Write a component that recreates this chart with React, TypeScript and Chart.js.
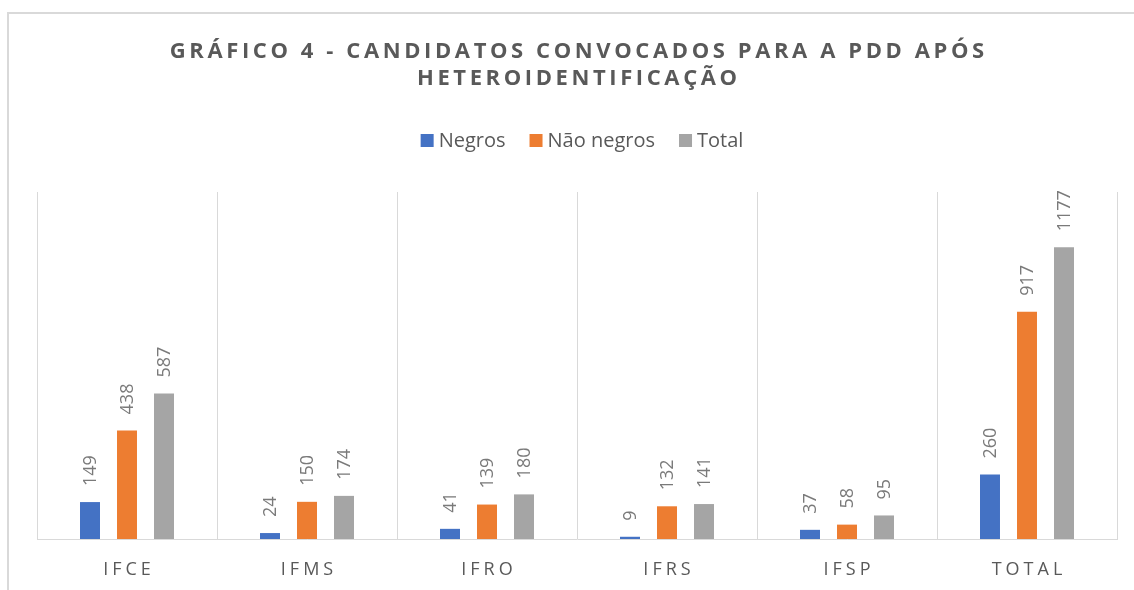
import React, { useEffect, useRef } from "react";
import { Chart, registerables } from "chart.js";

Chart.register(...registerables);

const categories = ["IFCE", "IFMS", "IFRO", "IFRS", "IFSP", "TOTAL"];
const negros = [149, 24, 41, 9, 37, 260];
const naoNegros = [438, 150, 139, 132, 58, 917];
const total = [587, 174, 180, 141, 95, 1177];
const seriesNames = ["Negros", "Não negros", "Total"];
const seriesColors = ["#4472C4", "#ED7D31", "#A5A5A5"];
const titleLines = ["GRÁFICO 4 - CANDIDATOS CONVOCADOS PARA A PDD APÓS", "HETEROIDENTIFICAÇÃO"];

const FONT = "'Open Sans', 'DejaVu Sans', sans-serif";

const decorPlugin = {
  id: "decor",
  afterDraw(chart: any) {
    const ctx = chart.ctx as CanvasRenderingContext2D;
    const area = chart.chartArea;
    const cx = (area.left + area.right) / 2;

    // Title
    ctx.save();
    ctx.fillStyle = "#595959";
    ctx.font = `bold 22px ${FONT}`;
    (ctx as any).letterSpacing = "3.6px";
    ctx.textAlign = "center";
    ctx.textBaseline = "alphabetic";
    ctx.fillText(titleLines[0], cx + 1.8, 58);
    ctx.fillText(titleLines[1], cx + 1.8, 85);
    ctx.restore();

    // Legend
    ctx.save();
    ctx.font = `20px ${FONT}`;
    ctx.textBaseline = "alphabetic";
    ctx.textAlign = "left";
    const box = 13;
    const gapBox = 5;
    const gapItem = 24;
    const widths = seriesNames.map((n) => ctx.measureText(n).width);
    const totalW = widths.reduce((a, w) => a + box + gapBox + w, 0) + gapItem * (seriesNames.length - 1);
    let x = 582 - totalW / 2;
    const baseY = 147;
    seriesNames.forEach((n, i) => {
      ctx.fillStyle = seriesColors[i];
      ctx.fillRect(x, baseY - box, box, box);
      x += box + gapBox;
      ctx.fillStyle = "#595959";
      ctx.fillText(n, x, baseY);
      x += widths[i] + gapItem;
    });
    ctx.restore();

    // X category labels
    const xScale = chart.scales.x;
    ctx.save();
    ctx.font = `18px ${FONT}`;
    (ctx as any).letterSpacing = "4px";
    ctx.fillStyle = "#595959";
    ctx.textAlign = "center";
    ctx.textBaseline = "alphabetic";
    categories.forEach((c, i) => {
      const px = xScale.getPixelForValue(i);
      ctx.fillText(c, px + 2, 575);
    });
    ctx.restore();

    // Data labels
    ctx.save();
    ctx.font = `18px ${FONT}`;
    ctx.fillStyle = "#7a7a7a";
    ctx.textAlign = "left";
    ctx.textBaseline = "middle";
    chart.data.datasets.forEach((ds: any, di: number) => {
      const meta = chart.getDatasetMeta(di);
      meta.data.forEach((el: any, i: number) => {
        const v = ds.data[i];
        ctx.save();
        ctx.translate(el.x + 1, el.y - 16);
        ctx.rotate(-Math.PI / 2);
        ctx.fillText(String(v), 0, 0);
        ctx.restore();
      });
    });
    ctx.restore();
  },
};

export default function App() {
  const ref = useRef<HTMLCanvasElement | null>(null);

  useEffect(() => {
    if (!ref.current) return;
    const chart = new Chart(ref.current, {
      type: "bar",
      data: {
        labels: categories,
        datasets: [
          { label: seriesNames[0], data: negros, backgroundColor: seriesColors[0] },
          { label: seriesNames[1], data: naoNegros, backgroundColor: seriesColors[1] },
          { label: seriesNames[2], data: total, backgroundColor: seriesColors[2] },
        ],
      },
      options: {
        responsive: false,
        animation: false,
        layout: { padding: { left: 37, right: 17, top: 192, bottom: 51 } },
        datasets: {
          bar: { categoryPercentage: 0.6167, barPercentage: 0.54 },
        },
        plugins: {
          legend: { display: false },
          title: { display: false },
          tooltip: { enabled: false },
        },
        scales: {
          x: {
            display: true,
            grid: { display: true, color: "#d9d9d9", lineWidth: 1, drawTicks: false, offset: true },
            border: { display: true, color: "#d9d9d9", width: 1 },
            ticks: { display: false },
          },
          y: {
            display: false,
            min: 0,
            max: 1400,
          },
        },
      },
      plugins: [decorPlugin],
    });
    return () => chart.destroy();
  }, []);

  return (
    <div style={{ position: "fixed", inset: 0, overflow: "hidden", background: "#fff" }}>
      <div
        style={{
          position: "absolute",
          left: 7,
          top: 12,
          width: 2000,
          height: 2000,
          borderTop: "2px solid #d9d9d9",
          borderLeft: "2px solid #d9d9d9",
        }}
      />
      <canvas
        ref={ref}
        width={1134}
        height={590}
        style={{ position: "absolute", left: 0, top: 0, width: 1134, height: 590 }}
      />
    </div>
  );
}
